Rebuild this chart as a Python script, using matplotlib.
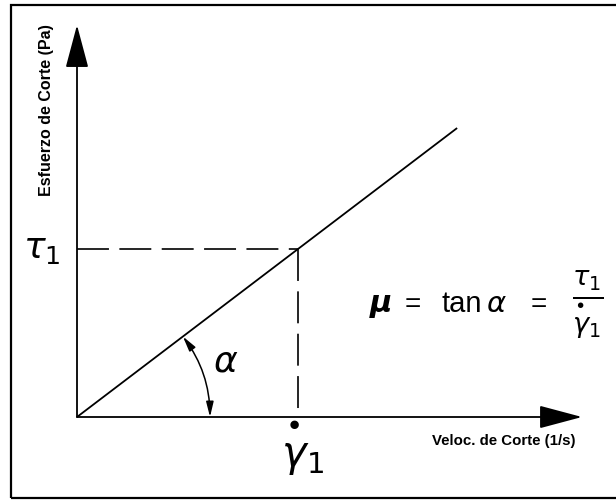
import numpy as np
import matplotlib
matplotlib.use("Agg")
import matplotlib.pyplot as plt
from matplotlib.patches import Rectangle

plt.rcParams['font.family'] = ['Liberation Sans', 'DejaVu Sans']
plt.rcParams['mathtext.fontset'] = 'dejavusans'
plt.rcParams['lines.scale_dashes'] = False

# Newtonian fluid: stress grows linearly with shear rate
shear_rate = [0.0, 1.0, 1.72]
shear_stress = [0.0, 1.0, 1.72]
gamma1 = 1.0
tau1 = 1.0
x_axis_end = 2.285
y_axis_end = 2.333

W, H = 616, 501


def fig_px(x, y):
    # pixel position (from the top left) to figure fraction
    return x / W, 1 - y / H


fig = plt.figure(figsize=(W / 100, H / 100), dpi=100)
ax = fig.add_axes([0, 0, 1, 1])
ax.set_xlim(-77 / 221, 539 / 221)
ax.set_ylim(-84 / 168, 417 / 168)
ax.axis('off')

# outer frame
fig.add_artist(Rectangle(fig_px(11, 498), 1.0, (498 - 5) / H, transform=fig.transFigure,
                         fill=False, lw=1.6, ec='black'))

# axes with big filled arrow heads
ax.annotate('', xy=(0, y_axis_end), xytext=(0, 0),
            arrowprops=dict(arrowstyle='-|>,head_length=27,head_width=7.2', mutation_scale=1,
                            lw=1.3, color='black', shrinkA=0, shrinkB=0))
ax.annotate('', xy=(x_axis_end, 0), xytext=(0, 0),
            arrowprops=dict(arrowstyle='-|>,head_length=27,head_width=7.2', mutation_scale=1,
                            lw=1.3, color='black', shrinkA=0, shrinkB=0))

# flow curve
ax.plot(shear_rate, shear_stress, color='black', lw=1.3, solid_capstyle='butt')

# guides to the point (gamma1, tau1)
ax.plot([0, gamma1], [tau1, tau1], color='black', lw=1.2, dashes=(23, 7.5))
ax.plot([gamma1, gamma1], [tau1, 0], color='black', lw=1.2, dashes=(23, 7.5))

# angle arc between x axis and the curve
fig.canvas.draw()
ox, oy = ax.transData.transform((0, 0))
ang = np.arctan2(*(ax.transData.transform((shear_rate[-1], shear_stress[-1])) - (ox, oy))[::-1])
r = 133
p_start = ax.transData.inverted().transform((ox + r, oy))
p_end = ax.transData.inverted().transform((ox + r * np.cos(ang), oy + r * np.sin(ang)))
ax.annotate('', xy=p_end, xytext=p_start,
            arrowprops=dict(arrowstyle='<|-|>,head_length=0.9,head_width=0.22', mutation_scale=10,
                            connectionstyle='arc3,rad=0.164', lw=1.1, color='black',
                            shrinkA=0, shrinkB=0))
fig.text(*fig_px(214, 372), 'α', fontsize=26, style='italic', ha='left', va='baseline',
         family='DejaVu Sans', fontweight='light')

# value labels
gamma_dot = r'\overset{•}{\gamma}_1'
ax.text(-0.16, tau1, r'$\tau_1$', fontsize=26, ha='center', va='center')
ax.text(gamma1 + 0.02, -0.005, '$' + gamma_dot + '$', fontsize=30, ha='center', va='top')

# axis titles
fig.text(*fig_px(47, 110), 'Esfuerzo de Corte (Pa)', rotation=90, fontsize=11.5,
         fontweight='bold', ha='center', va='center')
fig.text(*fig_px(432, 441), 'Veloc. de Corte (1/s)', fontsize=10.8,
         fontweight='bold', ha='left', va='center')

# viscosity relation
fig.text(*fig_px(370, 312), 'μ', fontsize=22, fontweight='bold', style='italic',
         family='DejaVu Sans', ha='left', va='baseline')
fig.text(*fig_px(405, 312), '=', fontsize=20, ha='left', va='baseline')
fig.text(*fig_px(441, 312), 'tan', fontsize=21, ha='left', va='baseline')
fig.text(*fig_px(486, 312), 'α', fontsize=21, style='italic', family='DejaVu Sans',
         ha='left', va='baseline')
fig.text(*fig_px(531, 312), '=', fontsize=20, ha='left', va='baseline')
fig.text(*fig_px(588, 306), r'$\frac{\tau_1}{' + gamma_dot + '}$', fontsize=28,
         ha='center', va='center')

fig.savefig('out.png', dpi=100)
